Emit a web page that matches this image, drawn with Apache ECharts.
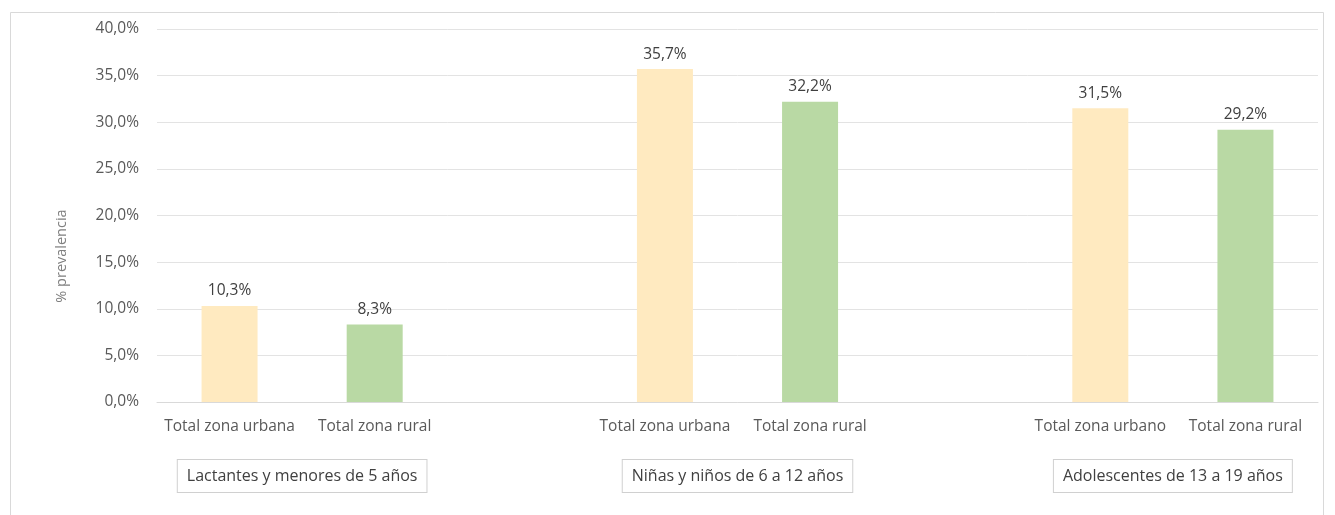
<!DOCTYPE html>
<html>
<head>
<meta charset="utf-8">
<script src="https://cdn.jsdelivr.net/npm/echarts@6/dist/echarts.min.js"></script>
<style>
  html, body { margin: 0; padding: 0; background: #ffffff; }
  #chart { width: 1335px; height: 515px; }
</style>
</head>
<body>
<div id="chart"></div>
<script>
// Prevalence by age group and zone; empty slots separate the groups.
const categories = [
  'Total zona urbana', 'Total zona rural', '',
  'Total zona urbana', 'Total zona rural', '',
  'Total zona urbano', 'Total zona rural'
];
const prevalence = [10.3, 8.3, null, 35.7, 32.2, null, 31.5, 29.2];
const groupNames = [
  'Lactantes y menores de 5 años',
  'Niñas y niños de 6 a 12 años',
  'Adolescentes de 13 a 19 años'
];
// first and last category index spanned by each group
const groupSpans = [[0, 1], [3, 4], [6, 7]];
const yTicks = [0, 5, 10, 15, 20, 25, 30, 35, 40];

const FONT = '"Open Sans", "Noto Sans", sans-serif';
const fmt = v => v.toFixed(1).replace('.', ',') + '%';

const chart = echarts.init(document.getElementById('chart'), null, { renderer: 'canvas' });

const option = {
  animation: false,
  backgroundColor: '#ffffff',
  textStyle: { fontFamily: FONT },
  grid: { left: 157, right: 17, top: 29, bottom: 113, containLabel: false },
  xAxis: {
    type: 'category',
    data: categories,
    axisLine: { lineStyle: { color: '#d9d9d9', width: 1 } },
    axisTick: { show: false },
    axisLabel: { color: '#595959', fontSize: 15.5, fontFamily: FONT, margin: 17, interval: 0 },
    splitLine: { show: false }
  },
  yAxis: {
    type: 'value',
    min: yTicks[0],
    max: yTicks[yTicks.length - 1],
    interval: yTicks[1] - yTicks[0],
    axisLine: { show: false },
    axisTick: { show: false },
    axisLabel: { color: '#595959', fontSize: 15.5, fontFamily: FONT, margin: 18, formatter: fmt },
    splitLine: { lineStyle: { color: '#e3e3e3', width: 1 } }
  },
  series: [{
    type: 'bar',
    data: prevalence,
    barWidth: 56,
    itemStyle: {
      color: p => (categories[p.dataIndex].indexOf('urban') >= 0 ? '#ffeac0' : '#b9d9a4')
    },
    label: {
      show: true,
      position: 'top',
      distance: 7,
      color: '#404040',
      fontSize: 15.5,
      fontFamily: FONT,
      formatter: p => fmt(p.value)
    }
  }]
};

chart.setOption(option);

// Group captions centred under each pair of bars, plus the frame and axis title.
function buildGraphics() {
  const elements = [];
  elements.push({
    type: 'rect',
    shape: { x: 10.5, y: 12.5, width: 1313, height: 520 },
    style: { fill: 'none', stroke: '#d9d9d9', lineWidth: 1 },
    silent: true
  });
  elements.push({
    type: 'text',
    x: 62, y: 256,
    rotation: Math.PI / 2,
    style: {
      text: '% prevalencia',
      fill: '#7f7f7f',
      font: '14.5px ' + FONT,
      align: 'center',
      verticalAlign: 'middle'
    }
  });
  groupNames.forEach((name, i) => {
    const a = chart.convertToPixel({ xAxisIndex: 0 }, groupSpans[i][0]);
    const b = chart.convertToPixel({ xAxisIndex: 0 }, groupSpans[i][1]);
    const cx = (a + b) / 2;
    elements.push({
      type: 'text',
      x: cx, y: 476,
      style: {
        text: name,
        fill: '#404040',
        font: '16px ' + FONT,
        align: 'center',
        verticalAlign: 'middle',
        padding: [8, 9, 8, 9],
        borderColor: '#d0d0d0',
        borderWidth: 1,
        backgroundColor: '#ffffff'
      }
    });
  });
  chart.setOption({ graphic: { elements } });
}
buildGraphics();
</script>
</body>
</html>
